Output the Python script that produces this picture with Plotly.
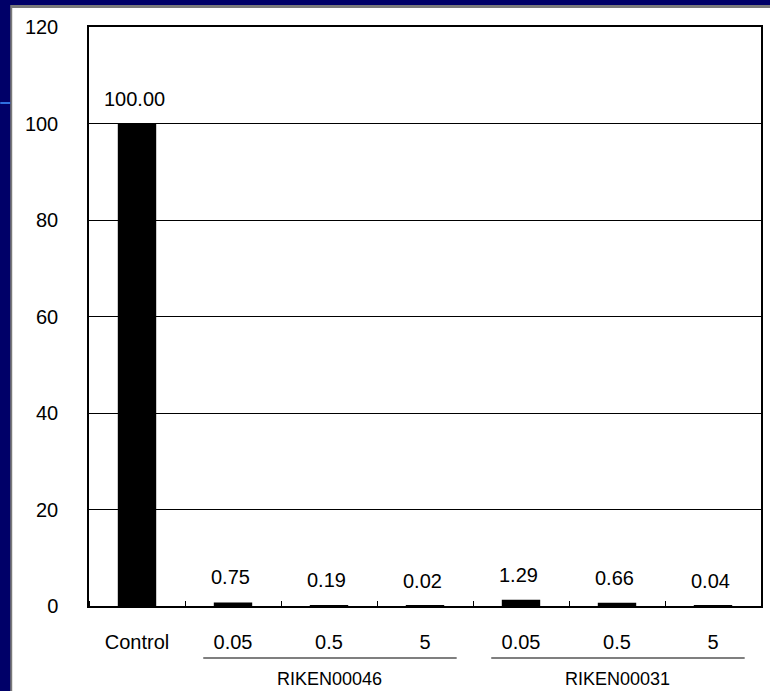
import plotly.graph_objects as go

categories = ["Control", "0.05", "0.5", "5", "0.05", "0.5", "5"]
values = [100.00, 0.75, 0.19, 0.02, 1.29, 0.66, 0.04]
groups = ["RIKEN00046", "RIKEN00031"]
group_members = [[1, 2, 3], [4, 5, 6]]
y_ticks = [0, 20, 40, 60, 80, 100, 120]

W, H = 770, 691
L, R, T, B = 89, 763, 27, 606

def px(x):
    return (x - L) / (R - L)

def py(y):
    return (B - y) / (B - T)

FONT = "Liberation Sans"
xpos = list(range(len(values)))

fig = go.Figure()
fig.add_trace(go.Bar(x=xpos, y=values, width=0.4, marker=dict(color="black", line=dict(width=0)),
                     hoverinfo="skip"))

annotations = []
for x, v in zip(xpos, values):
    annotations.append(dict(x=x, y=v, xref="x", yref="y", text=f"{v:.2f}", showarrow=False,
                            xshift=-3, yanchor="bottom", yshift=12,
                            font=dict(family=FONT, size=20, color="black")))

shapes = [
    dict(type="rect", xref="paper", yref="paper", x0=px(10), x1=px(W + 5), y0=py(H + 5), y1=py(5),
         fillcolor="#7a7a7a", line=dict(width=0), layer="below"),
    dict(type="rect", xref="paper", yref="paper", x0=px(12), x1=px(W + 5), y0=py(H + 5), y1=py(8),
         fillcolor="white", line=dict(width=0), layer="below"),
    dict(type="line", xref="paper", yref="paper", x0=px(0), x1=px(10), y0=py(103), y1=py(103),
         line=dict(color="#2f6fe0", width=2), layer="below"),
]
for members, name in zip(group_members, groups):
    x0 = members[0] - 0.31
    x1 = members[-1] + 0.33
    shapes.append(dict(type="line", xref="x", yref="paper", x0=x0, x1=x1, y0=py(658), y1=py(658),
                       line=dict(color="black", width=1.2)))
    annotations.append(dict(x=sum(members) / len(members), y=py(679), xref="x", yref="paper",
                            text=name, showarrow=False, yanchor="middle",
                            font=dict(family=FONT, size=18, color="black")))

fig.update_layout(
    width=W, height=H,
    margin=dict(l=L, r=W - R, t=T, b=H - B, pad=0),
    paper_bgcolor="#000068",
    plot_bgcolor="white",
    showlegend=False,
    bargap=0.6,
    font=dict(family=FONT, size=20, color="black"),
    shapes=shapes,
    annotations=annotations,
    xaxis=dict(range=[-0.5, len(values) - 0.5], tickmode="array", tickvals=xpos, ticktext=categories,
               ticks="", showgrid=False, zeroline=False, showline=True, mirror=True,
               linecolor="black", linewidth=1.5, ticklabelstandoff=17,
               minor=dict(tick0=0.5, dtick=1, ticks="inside", ticklen=5, tickcolor="black",
                          tickwidth=1, showgrid=False),
               tickfont=dict(family=FONT, size=20, color="black")),
    yaxis=dict(range=[0, 120], tickmode="array", tickvals=y_ticks, ticks="", showgrid=True,
               gridcolor="black", gridwidth=1, zeroline=False, showline=True, mirror=True,
               linecolor="black", linewidth=1.5, ticklabelstandoff=25,
               tickfont=dict(family=FONT, size=20, color="black")),
)

fig.write_html("out.html", config={"displayModeBar": False},
               post_script="document.body.style.margin='0';document.body.style.overflow='hidden';")
